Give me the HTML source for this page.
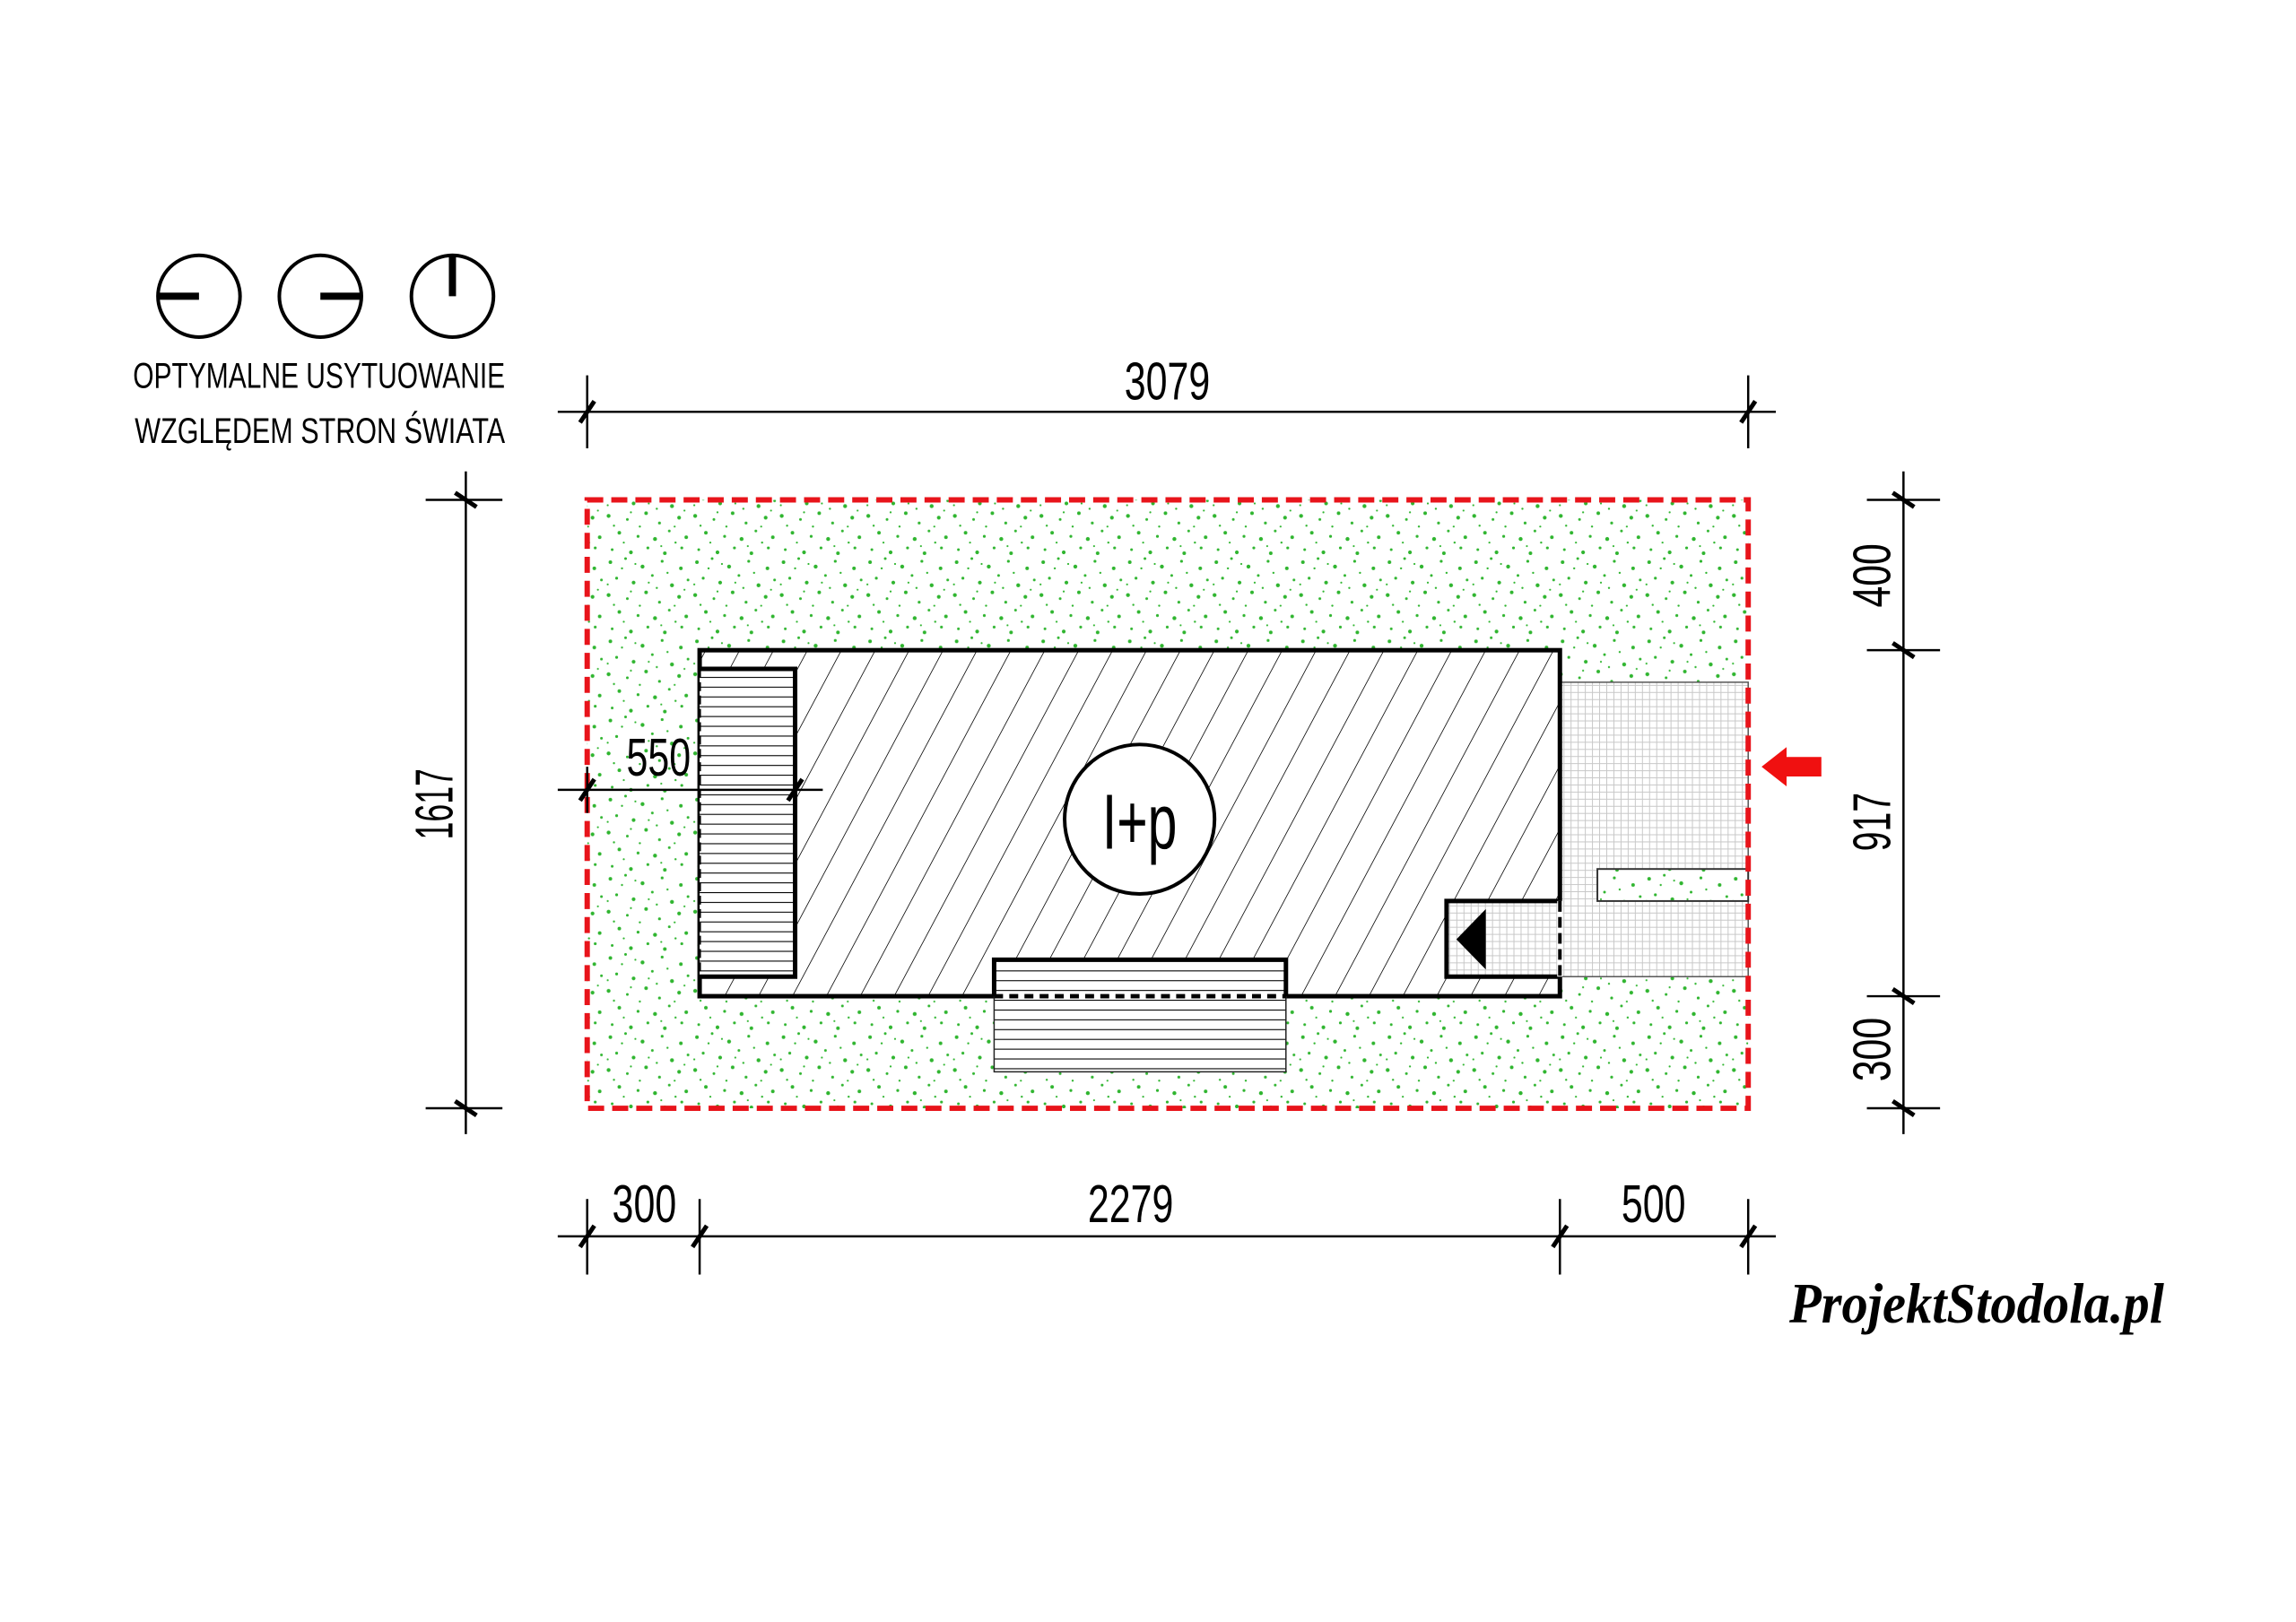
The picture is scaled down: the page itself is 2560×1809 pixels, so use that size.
<!DOCTYPE html>
<html><head><meta charset="utf-8"><style>html,body{margin:0;padding:0;background:#fff}svg{display:block}</style></head><body>
<svg width="2560" height="1809" viewBox="0 0 2560 1809" xmlns="http://www.w3.org/2000/svg">
<defs>
<pattern id="grass" width="97" height="89" patternUnits="userSpaceOnUse">
<g fill="#2fb52f">
<circle cx="5" cy="7" r="2"/><circle cx="22" cy="3" r="1.5"/><circle cx="41" cy="12" r="2.2"/><circle cx="63" cy="6" r="1.6"/><circle cx="84" cy="14" r="2"/>
<circle cx="12" cy="25" r="1.6"/><circle cx="31" cy="30" r="2.1"/><circle cx="52" cy="22" r="1.5"/><circle cx="74" cy="33" r="2.2"/><circle cx="92" cy="27" r="1.5"/>
<circle cx="3" cy="44" r="2.2"/><circle cx="24" cy="48" r="1.5"/><circle cx="45" cy="41" r="2"/><circle cx="60" cy="52" r="1.6"/><circle cx="82" cy="46" r="2.1"/>
<circle cx="15" cy="63" r="2"/><circle cx="36" cy="67" r="1.6"/><circle cx="55" cy="70" r="2.2"/><circle cx="71" cy="61" r="1.5"/><circle cx="90" cy="68" r="2"/>
<circle cx="7" cy="82" r="1.5"/><circle cx="28" cy="85" r="2.1"/><circle cx="47" cy="80" r="1.6"/><circle cx="66" cy="86" r="2"/><circle cx="85" cy="80" r="1.6"/>
<circle cx="18" cy="14" r="1.2"/><circle cx="57" cy="36" r="1.2"/><circle cx="38" cy="56" r="1.2"/><circle cx="78" cy="74" r="1.2"/><circle cx="9" cy="55" r="1.2"/><circle cx="69" cy="19" r="1.2"/>
<circle cx="33" cy="9" r="1.1"/><circle cx="88" cy="38" r="1.1"/><circle cx="20" cy="74" r="1.1"/><circle cx="62" cy="78" r="1.1"/><circle cx="48" cy="30" r="1.1"/><circle cx="77" cy="56" r="1.1"/><circle cx="2" cy="32" r="1.1"/><circle cx="28" cy="40" r="1.1"/>
</g></pattern>
<pattern id="hatch" width="38" height="40" patternUnits="userSpaceOnUse" patternTransform="skewX(-28)">
<line x1="0" y1="0" x2="0" y2="40" stroke="#000" stroke-width="1.8"/></pattern>
<pattern id="hl" width="10" height="11" patternUnits="userSpaceOnUse">
<line x1="0" y1="0.5" x2="10" y2="0.5" stroke="#000" stroke-width="1.2"/></pattern>
<pattern id="grid" width="8" height="8" patternUnits="userSpaceOnUse">
<path d="M0 0.5H8M0.5 0V8" stroke="#c8c8c8" stroke-width="1"/></pattern>
</defs>
<g transform="translate(0,2) scale(0.995,0.992)">
<rect x="658" y="560" width="1301" height="684" fill="url(#grass)"/>
<rect x="1748" y="765" width="211" height="331" fill="#fff"/>
<rect x="1748" y="765" width="211" height="331" fill="url(#grid)" stroke="#555" stroke-width="1.5"/>
<rect x="1790" y="975" width="169" height="36" fill="#fff"/>
<rect x="1790" y="975" width="169" height="36" fill="url(#grass)" stroke="#333" stroke-width="2"/>
<rect x="784" y="729" width="964" height="389" fill="#fff"/>
<rect x="784" y="729" width="964" height="389" fill="url(#hatch)" stroke="#000" stroke-width="5"/>
<rect x="784" y="750" width="107" height="346" fill="#fff"/>
<rect x="784" y="750" width="107" height="346" fill="url(#hl)"/>
<path d="M784 750H891V1096H784" fill="none" stroke="#000" stroke-width="5"/>
<line x1="784" y1="750" x2="784" y2="1096" stroke="#000" stroke-width="3" stroke-dasharray="10 5"/>
<rect x="1114" y="1077" width="327" height="126" fill="#fff"/>
<rect x="1114" y="1077" width="327" height="126" fill="url(#hl)" stroke="#222" stroke-width="1.5"/>
<path d="M1114 1118V1077H1441V1118" fill="none" stroke="#000" stroke-width="5"/>
<line x1="1114" y1="1118" x2="1441" y2="1118" stroke="#000" stroke-width="5" stroke-dasharray="10 7"/>
<rect x="1621" y="1011" width="127" height="85" fill="#fff"/>
<rect x="1621" y="1011" width="127" height="85" fill="url(#grid)"/>
<path d="M1748 1011H1621V1096H1748" fill="none" stroke="#000" stroke-width="5"/>
<line x1="1748" y1="1011" x2="1748" y2="1096" stroke="#fff" stroke-width="6"/>
<line x1="1748" y1="1011" x2="1748" y2="1096" stroke="#000" stroke-width="4" stroke-dasharray="12 6"/>
<polygon points="1632,1054 1665,1020 1665,1088" fill="#000"/>
<circle cx="1277" cy="919" r="84" fill="#fff" stroke="#000" stroke-width="4"/>
<text x="1277" y="952" font-family="Liberation Sans Narrow, Liberation Sans, sans-serif" font-size="88" text-anchor="middle" textLength="84" lengthAdjust="spacingAndGlyphs">I+p</text>
<rect x="658" y="560" width="1301" height="684" fill="none" stroke="#e8141b" stroke-width="6" stroke-dasharray="18 9"/>
<polygon points="1974,860 2002,838 2002,849 2041,849 2041,871 2002,871 2002,882" fill="#f01010"/>

<g stroke="#000" stroke-width="2.5" fill="none">
<line x1="625" y1="461" x2="1990" y2="461"/>
<line x1="658" y1="420" x2="658" y2="502"/><line x1="1959" y1="420" x2="1959" y2="502"/>
<line x1="522" y1="528" x2="522" y2="1273"/>
<line x1="477" y1="560" x2="563" y2="560"/><line x1="477" y1="1244" x2="563" y2="1244"/>
<line x1="2133" y1="528" x2="2133" y2="1273"/>
<line x1="2092" y1="560" x2="2174" y2="560"/><line x1="2092" y1="729" x2="2174" y2="729"/>
<line x1="2092" y1="1118" x2="2174" y2="1118"/><line x1="2092" y1="1244" x2="2174" y2="1244"/>
<line x1="625" y1="1388" x2="1990" y2="1388"/>
<line x1="658" y1="1346" x2="658" y2="1431"/><line x1="784" y1="1346" x2="784" y2="1431"/>
<line x1="1748" y1="1346" x2="1748" y2="1431"/><line x1="1959" y1="1346" x2="1959" y2="1431"/>
<line x1="625" y1="886" x2="922" y2="886"/>
<line x1="658" y1="860" x2="658" y2="912"/>
</g>
<g stroke="#000" stroke-width="5">
<line x1="650" y1="473" x2="666" y2="449"/><line x1="1951" y1="473" x2="1967" y2="449"/>
<line x1="510" y1="552" x2="534" y2="568"/><line x1="510" y1="1236" x2="534" y2="1252"/>
<line x1="2121" y1="552" x2="2145" y2="568"/><line x1="2121" y1="721" x2="2145" y2="737"/>
<line x1="2121" y1="1110" x2="2145" y2="1126"/><line x1="2121" y1="1236" x2="2145" y2="1252"/>
<line x1="650" y1="1400" x2="666" y2="1376"/><line x1="776" y1="1400" x2="792" y2="1376"/>
<line x1="1740" y1="1400" x2="1756" y2="1376"/><line x1="1951" y1="1400" x2="1967" y2="1376"/>
<line x1="650" y1="898" x2="666" y2="874"/><line x1="883" y1="898" x2="899" y2="874"/>
</g>

<g font-family="Liberation Sans Narrow, Liberation Sans, sans-serif" font-size="60" fill="#000" text-anchor="middle">
<text x="1308" y="447" textLength="96" lengthAdjust="spacingAndGlyphs">3079</text>
<text x="722" y="1372" textLength="72" lengthAdjust="spacingAndGlyphs">300</text>
<text x="1267" y="1372" textLength="96" lengthAdjust="spacingAndGlyphs">2279</text>
<text x="1853" y="1372" textLength="72" lengthAdjust="spacingAndGlyphs">500</text>
<text x="738" y="870" textLength="72" lengthAdjust="spacingAndGlyphs">550</text>
<text transform="translate(507,902) rotate(-90)" textLength="80" lengthAdjust="spacingAndGlyphs">1617</text>
<text transform="translate(2118,645) rotate(-90)" textLength="72" lengthAdjust="spacingAndGlyphs">400</text>
<text transform="translate(2118,922) rotate(-90)" textLength="66" lengthAdjust="spacingAndGlyphs">917</text>
<text transform="translate(2118,1178) rotate(-90)" textLength="72" lengthAdjust="spacingAndGlyphs">300</text>
</g>

<g stroke="#000" stroke-width="4" fill="none">
<circle cx="223" cy="331" r="46"/><circle cx="359" cy="331" r="46"/><circle cx="507" cy="331" r="46"/>
</g>
<g stroke="#000" stroke-width="8">
<line x1="177" y1="331" x2="223" y2="331"/><line x1="359" y1="331" x2="405" y2="331"/><line x1="507" y1="285" x2="507" y2="331"/>
</g>
<g font-family="Liberation Sans Narrow, Liberation Sans, sans-serif" font-size="40" fill="#000">
<text x="149" y="434" textLength="417" lengthAdjust="spacingAndGlyphs">OPTYMALNE USYTUOWANIE</text>
<text x="151" y="496" textLength="415" lengthAdjust="spacingAndGlyphs">WZGLĘDEM STRON ŚWIATA</text>
</g>
<text x="2005" y="1485" font-family="Liberation Serif, serif" font-style="italic" font-weight="bold" font-size="64" textLength="420" lengthAdjust="spacingAndGlyphs" fill="#000">ProjektStodola.pl</text>
</g>
</svg>
</body></html>
